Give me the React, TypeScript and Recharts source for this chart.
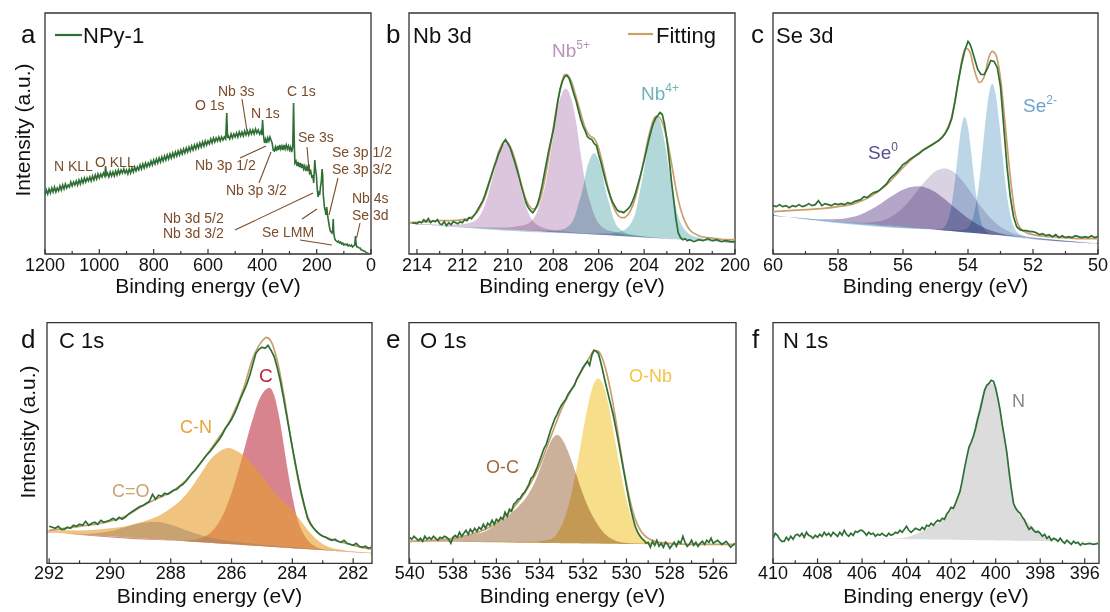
import React from "react";
import { ComposedChart, Line, Area, XAxis, YAxis, ReferenceArea, ReferenceLine } from "recharts";

const FONT = "'Liberation Sans', Arial, Helvetica, sans-serif";
const GREEN = "#2f6e34";
const TAN = "#c9a06c";
const BROWN = "#7a4c2a";

type Pt = [number, number];

// ---- a: survey ----
const surveyA: Pt[] = [
  [1200, 60], [1195, 65], [1190, 61], [1185, 66], [1180, 62], [1175, 67], [1170, 63], [1165, 68], [1160, 63], [1155, 67],
  [1150, 64], [1145, 69], [1140, 65], [1135, 70], [1130, 66], [1125, 71], [1120, 67], [1115, 70], [1110, 68], [1105, 73],
  [1100, 69], [1095, 73], [1090, 70], [1085, 74], [1080, 70], [1075, 75], [1070, 71], [1065, 76], [1060, 72], [1055, 77],
  [1050, 73], [1045, 77], [1040, 74], [1035, 78], [1030, 74], [1025, 79], [1020, 75], [1015, 80], [1010, 76], [1005, 81],
  [1000, 77], [995, 81], [990, 78], [985, 82], [980, 79], [977, 89], [974, 80], [970, 82], [965, 78], [960, 83],
  [955, 79], [950, 83], [945, 79], [940, 84], [935, 80], [930, 85], [925, 81], [920, 85], [915, 82], [910, 86],
  [905, 82], [900, 85], [895, 81], [890, 86], [885, 82], [880, 87], [875, 83], [870, 88], [865, 84], [860, 88],
  [855, 85], [850, 90], [845, 86], [840, 91], [835, 87], [830, 92], [825, 88], [820, 92], [815, 89], [810, 94],
  [805, 90], [800, 95], [795, 91], [790, 96], [785, 92], [780, 97], [775, 93], [770, 98], [765, 94], [760, 99],
  [755, 95], [750, 100], [745, 96], [740, 101], [735, 97], [730, 102], [725, 98], [720, 103], [715, 99], [710, 104],
  [705, 100], [700, 105], [695, 101], [690, 106], [685, 102], [680, 107], [675, 103], [670, 108], [665, 104], [660, 109],
  [655, 105], [650, 110], [645, 106], [640, 111], [635, 107], [630, 112], [625, 108], [620, 113], [615, 109], [610, 114],
  [605, 110], [600, 114], [595, 111], [590, 116], [585, 112], [580, 117], [575, 113], [570, 117], [565, 114], [560, 118],
  [555, 114], [550, 118], [545, 115], [540, 118], [535, 116], [531, 142], [528, 117], [525, 119], [520, 116], [515, 121],
  [510, 117], [505, 121], [500, 118], [495, 122], [490, 118], [485, 123], [480, 119], [475, 123], [470, 119], [465, 124],
  [460, 120], [455, 124], [450, 120], [445, 125], [440, 121], [435, 125], [430, 121], [425, 126], [420, 122], [415, 125],
  [410, 121], [405, 124], [402, 120], [399, 135], [396, 120], [392, 112], [388, 116], [384, 112], [380, 117], [376, 114],
  [372, 118], [368, 115], [364, 112], [360, 105], [356, 104], [352, 108], [348, 104], [344, 109], [340, 105], [336, 110],
  [332, 106], [328, 109], [324, 105], [320, 110], [316, 106], [312, 110], [308, 106], [304, 109], [300, 105], [296, 108],
  [292, 103], [288, 108], [285, 152], [282, 108], [280, 92], [276, 94], [272, 89], [268, 93], [264, 88], [260, 92],
  [256, 87], [252, 91], [248, 86], [244, 89], [240, 84], [236, 88], [232, 84], [229, 91], [226, 82], [222, 84],
  [218, 78], [214, 79], [211, 72], [207, 95], [204, 85], [201, 80], [198, 66], [195, 58], [192, 62], [189, 60],
  [186, 68], [183, 73], [180, 86], [178, 80], [176, 62], [174, 55], [171, 47], [168, 44], [166, 40], [163, 48],
  [161, 42], [159, 38], [156, 33], [153, 28], [150, 24], [147, 23], [144, 22], [141, 25], [139, 36], [137, 22],
  [134, 17], [131, 15], [128, 14], [124, 13], [120, 14], [116, 12], [112, 13], [108, 11], [104, 12], [100, 10],
  [96, 11], [92, 10], [88, 11], [84, 9], [80, 10], [76, 9], [72, 10], [68, 8], [64, 9], [60, 10],
  [57, 19], [55, 11], [52, 8], [48, 8], [44, 7], [40, 7], [36, 5], [32, 5], [28, 4], [24, 4],
  [20, 3], [16, 2], [12, 2], [8, 1], [4, 1], [0, 0],
];
const ticksA = [0, 100, 200, 300, 400, 500, 600, 700, 800, 900, 1000, 1100, 1200];
// leader lines [eV1, y1, eV2, y2]
const leadersA: [number, number, number, number][] = [
  [474.8, 156, 456.4, 124],
  [482.2, 97, 386.5, 109],
  [412.3, 72, 368.1, 103],
  [235.6, 108, 228.2, 85],
  [121.5, 77, 154.6, 40],
  [40.5, 32, 53, 17],
  [500.6, 25, 213.5, 62],
  [254, 36, 198.8, 46],
  [261.3, 15, 143.6, 10],
];
const labelsA: [string, number, number][] = [
  ["N KLL", 54, 171], ["O KLL", 95, 167], ["O 1s", 195, 110], ["Nb 3s", 218, 96], ["N 1s", 251, 118],
  ["C 1s", 287, 96], ["Se 3s", 298, 142], ["Nb 3p 1/2", 195, 170], ["Nb 3p 3/2", 226, 195],
  ["Se 3p 1/2", 332, 157], ["Se 3p 3/2", 332, 174], ["Nb 4s", 352, 203], ["Se 3d", 352, 220],
  ["Nb 3d 5/2", 163, 223], ["Nb 3d 3/2", 163, 238], ["Se LMM", 262, 237],
];

// ---- b: Nb 3d ----
const nb3d: Pt[] = [
  [214.2, 24], [214.0, 23], [213.9, 25], [213.8, 24], [213.7, 27], [213.6, 25], [213.5, 28], [213.4, 24], [213.3, 26], [213.2, 25],
  [213.1, 27], [213.0, 23], [212.9, 22], [212.8, 25], [212.7, 21], [212.6, 24], [212.5, 22], [212.4, 25], [212.3, 24], [212.2, 23],
  [212.1, 25], [212.0, 24], [211.9, 27], [211.8, 26], [211.7, 29], [211.6, 28], [211.5, 31], [211.4, 34], [211.3, 38], [211.2, 42],
  [211.1, 46], [211.0, 52], [210.9, 59], [210.8, 66], [210.7, 73], [210.6, 80], [210.5, 86], [210.4, 93], [210.3, 98], [210.2, 104],
  [210.1, 107], [210.0, 103], [209.9, 99], [209.8, 92], [209.7, 85], [209.6, 77], [209.5, 69], [209.4, 60], [209.3, 52], [209.2, 44],
  [209.1, 39], [209.0, 36], [208.9, 34], [208.8, 37], [208.7, 42], [208.6, 50], [208.5, 60], [208.4, 72], [208.3, 84], [208.2, 96],
  [208.1, 106], [208.0, 116], [207.9, 130], [207.8, 145], [207.7, 157], [207.6, 165], [207.5, 170], [207.4, 171], [207.3, 168], [207.2, 161],
  [207.1, 153], [207.0, 146], [206.9, 137], [206.8, 128], [206.7, 121], [206.6, 116], [206.5, 110], [206.4, 108], [206.3, 107], [206.2, 103],
  [206.1, 101], [206.0, 92], [205.9, 84], [205.8, 75], [205.7, 66], [205.6, 58], [205.5, 51], [205.4, 45], [205.3, 41], [205.2, 37],
  [205.1, 35], [205.0, 35], [204.9, 34], [204.8, 36], [204.7, 38], [204.6, 41], [204.5, 46], [204.4, 52], [204.3, 60], [204.2, 68],
  [204.1, 77], [204.0, 86], [203.9, 96], [203.8, 106], [203.7, 115], [203.6, 123], [203.5, 128], [203.4, 131], [203.3, 134], [203.2, 132],
  [203.1, 122], [203.0, 107], [202.9, 88], [202.8, 66], [202.7, 47], [202.6, 28], [202.5, 14], [202.4, 9], [202.3, 7], [202.2, 8],
  [202.1, 6], [202.0, 7], [201.8, 5], [201.6, 7], [201.4, 6], [201.2, 8], [201.0, 6], [200.8, 7], [200.6, 5], [200.4, 6], [200.2, 5], [200.0, 5],
];
const fitB: Pt[] = [
  [214.3, 24], [213.5, 25], [213, 26], [212.5, 26], [212, 27], [211.5, 31], [211.2, 40], [211, 50], [210.8, 64], [210.6, 80],
  [210.4, 95], [210.2, 104], [210.1, 105], [210.0, 104], [209.8, 95], [209.6, 80], [209.4, 62], [209.2, 47], [209.0, 39], [208.9, 37.5],
  [208.8, 38], [208.6, 46], [208.4, 64], [208.2, 90], [208.0, 118], [207.8, 146], [207.6, 166], [207.5, 172], [207.4, 172], [207.2, 165],
  [207.0, 150], [206.8, 134], [206.6, 119], [206.4, 111], [206.2, 108], [206.0, 98], [205.8, 80], [205.6, 60], [205.4, 43], [205.2, 33],
  [205.0, 29], [204.9, 29], [204.8, 30], [204.6, 36], [204.4, 48], [204.2, 66], [204.0, 88], [203.8, 110], [203.6, 126], [203.5, 130],
  [203.4, 130], [203.2, 124], [203.0, 108], [202.8, 84], [202.6, 58], [202.4, 38], [202.2, 25], [202.0, 17], [201.6, 11], [201.2, 9],
  [200.8, 8], [200.4, 7], [200.0, 7],
];
const baseB: Pt[] = [[214.3, 23], [200, 4]];
const nb5a: Pt[] = [
  [214.3, 0.5], [213.1, 0.8], [212.6, 1.2], [212.1, 2], [211.7, 4], [211.5, 6], [211.3, 10], [211.1, 18], [210.9, 31], [210.7, 48],
  [210.5, 67], [210.3, 82], [210.1, 86], [209.9, 82], [209.7, 67], [209.5, 48], [209.3, 31], [209.1, 18], [208.9, 10], [208.7, 6],
  [208.5, 4], [208.1, 2], [207.6, 1.2], [207.1, 0.8], [200, 0.5],
];
const nb5b: Pt[] = [
  [214.3, 0.5], [210.65, 1], [210.15, 1.7], [209.6, 3.6], [209.15, 6.5], [208.95, 10], [208.75, 17], [208.55, 30], [208.3, 52], [208.1, 81],
  [207.9, 112], [207.65, 137], [207.45, 144], [207.25, 137], [207.0, 112], [206.8, 81], [206.6, 52], [206.35, 30], [206.15, 17], [205.95, 10],
  [205.75, 6.5], [205.3, 3.6], [204.75, 1.7], [204.25, 1], [200, 0.5],
];
const nb4a: Pt[] = [
  [214.3, 0.5], [208.7, 0.6], [208.3, 1], [207.9, 2], [207.55, 3.6], [207.4, 5.7], [207.2, 10], [207.05, 17], [206.9, 29], [206.7, 45],
  [206.55, 63], [206.35, 77], [206.2, 81], [206.05, 77], [205.85, 63], [205.7, 45], [205.5, 29], [205.35, 17], [205.2, 10], [205.0, 5.7],
  [204.85, 3.6], [204.5, 2], [204.1, 1], [203.7, 0.6], [200, 0.5],
];
const nb4b: Pt[] = [
  [214.3, 0.5], [206.25, 0.7], [205.75, 1.5], [205.3, 3], [204.93, 5.4], [204.75, 8.5], [204.55, 14.5], [204.37, 25], [204.2, 44], [204.0, 68],
  [203.82, 94], [203.63, 115], [203.45, 121], [203.27, 115], [203.08, 94], [202.9, 68], [202.71, 44], [202.53, 25], [202.35, 14.5], [202.15, 8.5],
  [201.97, 5.4], [201.6, 3], [201.15, 1.5], [200.65, 0.7], [200, 0.5],
];
const ticksB = [200, 201, 202, 203, 204, 205, 206, 207, 208, 209, 210, 211, 212, 213, 214];

// ---- c: Se 3d ----
const se3d: Pt[] = [
  [60.0, 41], [59.9, 40], [59.8, 42], [59.7, 40], [59.6, 41], [59.5, 39], [59.4, 41], [59.3, 40], [59.2, 42], [59.1, 40],
  [59.0, 41], [58.9, 43], [58.8, 41], [58.7, 42], [58.6, 46], [58.5, 41], [58.4, 43], [58.3, 42], [58.2, 41], [58.1, 43],
  [58.0, 42], [57.9, 43], [57.8, 42], [57.7, 44], [57.6, 43], [57.5, 45], [57.4, 46], [57.3, 47], [57.2, 50], [57.1, 49],
  [57.0, 52], [56.9, 54], [56.8, 55], [56.7, 57], [56.6, 60], [56.5, 63], [56.4, 68], [56.3, 71], [56.2, 74], [56.1, 78],
  [56.0, 82], [55.9, 84], [55.8, 87], [55.7, 89], [55.6, 91], [55.5, 93], [55.4, 96], [55.3, 98], [55.2, 100], [55.1, 102],
  [55.0, 104], [54.9, 106], [54.8, 109], [54.7, 113], [54.6, 119], [54.5, 128], [54.4, 145], [54.3, 165], [54.2, 182], [54.1, 196],
  [54.0, 205], [53.95, 203], [53.9, 199], [53.8, 188], [53.7, 177], [53.6, 172], [53.5, 172], [53.4, 178], [53.3, 186], [53.2, 185],
  [53.1, 179], [53.0, 160], [52.9, 120], [52.8, 80], [52.7, 50], [52.6, 30], [52.5, 20], [52.4, 17], [52.3, 16], [52.2, 16],
  [52.1, 15], [52.0, 15], [51.9, 14], [51.8, 12], [51.7, 13], [51.6, 11], [51.5, 12], [51.4, 10], [51.3, 12], [51.2, 9],
  [51.1, 11], [51.0, 9], [50.9, 10], [50.8, 9], [50.7, 11], [50.6, 10], [50.5, 9], [50.4, 10], [50.3, 9], [50.2, 11], [50.1, 9], [50.0, 10],
];
const fitC: Pt[] = [
  [60, 35], [59.5, 36], [59, 37], [58.5, 38], [58, 40], [57.5, 43], [57, 50], [56.5, 62], [56, 79], [55.5, 94],
  [55, 104], [54.7, 114], [54.5, 130], [54.3, 165], [54.15, 192], [54.05, 198], [53.95, 195], [53.8, 176], [53.65, 164], [53.5, 170],
  [53.35, 190], [53.25, 195], [53.15, 192], [53.0, 168], [52.85, 120], [52.7, 70], [52.55, 33], [52.4, 19], [52.2, 14], [52.0, 12],
  [51.5, 10], [51.0, 9], [50.5, 8], [50, 8],
];
const baseC: Pt[] = [[60, 31], [50, 3]];
const se0b: Pt[] = [
  [60, 0.3], [58.5, 0.5], [57.9, 2.6], [57.6, 5], [57.3, 8.8], [57.0, 14.2], [56.7, 21], [56.4, 28.4], [56.1, 35.3], [55.8, 40.2],
  [55.5, 42], [55.2, 40.2], [54.9, 35.3], [54.6, 28.4], [54.3, 21], [54.0, 14.2], [53.7, 8.8], [53.4, 5], [53.1, 2.6], [52.5, 0.5], [50, 0.3],
];
const se0a: Pt[] = [
  [60, 0.3], [57.2, 0.8], [56.7, 3.9], [56.45, 7.4], [56.2, 13.1], [55.95, 21], [55.7, 31], [55.45, 42], [55.2, 52.1], [54.95, 59.4],
  [54.7, 62], [54.45, 59.4], [54.2, 52.1], [53.95, 42], [53.7, 31], [53.45, 21], [53.2, 13.1], [52.95, 7.4], [52.7, 3.9], [52.2, 0.8], [50, 0.3],
];
const se2a: Pt[] = [
  [60, 0.3], [55.0, 0.5], [54.8, 1.5], [54.7, 4.5], [54.6, 12], [54.5, 27], [54.4, 51], [54.3, 80], [54.2, 105], [54.1, 115],
  [54.0, 105], [53.9, 80], [53.8, 51], [53.7, 27], [53.6, 12], [53.5, 4.5], [53.4, 1.5], [53.2, 0.5], [50, 0.3],
];
const se2b: Pt[] = [
  [60, 0.3], [54.75, 0.5], [54.25, 1.5], [54.05, 3.5], [53.95, 7], [53.85, 15], [53.75, 30], [53.65, 53], [53.55, 84], [53.45, 116],
  [53.35, 141], [53.25, 151], [53.15, 141], [53.05, 116], [52.95, 84], [52.85, 53], [52.75, 30], [52.65, 15], [52.55, 7], [52.45, 3.5],
  [52.25, 1.5], [51.75, 0.8], [50, 0.5],
];
const ticksC = [50, 51, 52, 53, 54, 55, 56, 57, 58, 59, 60];

// ---- d: C 1s ----
const c1s: Pt[] = [
  [292.0, 37], [291.9, 36], [291.8, 35], [291.7, 37], [291.6, 34], [291.5, 34], [291.4, 36], [291.3, 35], [291.2, 38], [291.1, 37],
  [291.0, 39], [290.9, 38], [290.8, 42], [290.7, 38], [290.6, 40], [290.5, 41], [290.4, 39], [290.3, 43], [290.2, 41], [290.1, 42],
  [290.0, 43], [289.9, 45], [289.8, 43], [289.7, 46], [289.6, 44], [289.5, 46], [289.4, 49], [289.3, 51], [289.2, 53], [289.1, 55],
  [289.0, 57], [288.9, 58], [288.8, 60], [288.7, 62], [288.6, 69], [288.5, 64], [288.4, 68], [288.3, 67], [288.2, 70], [288.1, 69],
  [288.0, 71], [287.9, 73], [287.8, 74], [287.7, 77], [287.6, 79], [287.5, 82], [287.4, 86], [287.3, 90], [287.2, 93], [287.1, 97],
  [287.0, 101], [286.9, 105], [286.8, 109], [286.7, 112], [286.6, 116], [286.5, 120], [286.4, 124], [286.3, 129], [286.2, 135], [286.1, 139],
  [286.0, 144], [285.9, 150], [285.8, 157], [285.7, 165], [285.6, 172], [285.5, 179], [285.4, 188], [285.3, 199], [285.2, 210], [285.1, 214],
  [285.0, 216], [284.9, 215], [284.8, 218], [284.7, 213], [284.6, 207], [284.5, 196], [284.4, 183], [284.3, 167], [284.2, 150], [284.1, 133],
  [284.0, 116], [283.9, 100], [283.8, 84], [283.7, 70], [283.6, 57], [283.5, 45], [283.4, 39], [283.3, 35], [283.2, 32], [283.1, 29],
  [283.0, 27], [282.9, 26], [282.8, 24], [282.7, 23], [282.6, 24], [282.5, 22], [282.4, 21], [282.3, 23], [282.2, 20], [282.1, 19],
  [282.0, 18], [281.9, 20], [281.8, 17], [281.7, 16], [281.6, 17], [281.5, 15], [281.4, 16],
];
const fitD: Pt[] = [
  [292, 33], [291.5, 35], [291, 37], [290.5, 39], [290, 42], [289.5, 47], [289, 56], [288.5, 64], [288, 71], [287.5, 83],
  [287, 101], [286.5, 122], [286, 146], [285.6, 175], [285.3, 205], [285.0, 222], [284.85, 226], [284.7, 222], [284.5, 203], [284.3, 172],
  [284.1, 134], [283.9, 98], [283.7, 68], [283.5, 47], [283.3, 35], [283.1, 29], [282.8, 25], [282.5, 22], [282, 18], [281.4, 14],
];
const baseD: Pt[] = [[292.07, 31], [281.38, 10]];
const cCO: Pt[] = [
  [292.07, 0.3], [291.0, 0.5], [290.5, 2], [290.0, 5], [289.5, 10], [289.0, 15], [288.5, 17.6], [288.0, 15.5], [287.5, 11], [287.0, 7],
  [286.5, 4.5], [286.0, 3], [285.0, 1.5], [284.0, 1], [283.0, 0.5], [281.38, 0.3],
];
const cCN: Pt[] = [
  [292.07, 2], [291.0, 4], [290.0, 8], [289.5, 11], [289.0, 16], [288.5, 22], [288.0, 32], [287.6, 43], [287.3, 55], [287.0, 69],
  [286.7, 83], [286.4, 92], [286.1, 96], [285.8, 93], [285.5, 87], [285.2, 77], [284.9, 66], [284.6, 55], [284.3, 46], [284.0, 38],
  [283.7, 27], [283.4, 16], [283.1, 8], [282.8, 3.5], [282.4, 1.5], [281.38, 0.5],
];
const cC: Pt[] = [
  [292.07, 0.2], [287.6, 0.5], [287.15, 2.4], [286.85, 6.5], [286.55, 15], [286.25, 31], [285.95, 56], [285.65, 88], [285.35, 122], [285.05, 149],
  [284.75, 159], [284.6, 152], [284.45, 133], [284.3, 106], [284.15, 77], [284.0, 52], [283.85, 31], [283.7, 19], [283.55, 11], [283.4, 6],
  [283.2, 2.5], [282.9, 0.6], [281.38, 0.2],
];
const ticksD = [282, 283, 284, 285, 286, 287, 288, 289, 290, 291, 292];

// ---- e: O 1s ----
const o1s: Pt[] = [
  [540.0, 27], [539.9, 25], [539.8, 28], [539.7, 26], [539.6, 24], [539.5, 26], [539.4, 23], [539.3, 28], [539.2, 25], [539.1, 27],
  [539.0, 25], [538.9, 28], [538.8, 26], [538.7, 24], [538.6, 27], [538.5, 26], [538.4, 28], [538.3, 27], [538.2, 25], [538.1, 21],
  [538.0, 27], [537.9, 29], [537.8, 27], [537.7, 32], [537.6, 28], [537.5, 31], [537.4, 34], [537.3, 30], [537.2, 35], [537.1, 32],
  [537.0, 36], [536.9, 33], [536.8, 37], [536.7, 35], [536.6, 40], [536.5, 36], [536.4, 41], [536.3, 39], [536.2, 44], [536.1, 40],
  [536.0, 45], [535.9, 43], [535.8, 47], [535.7, 45], [535.6, 52], [535.5, 48], [535.4, 55], [535.3, 53], [535.2, 60], [535.1, 62],
  [535.0, 65], [534.9, 66], [534.8, 70], [534.7, 72], [534.6, 76], [534.5, 80], [534.4, 86], [534.3, 88], [534.2, 93], [534.1, 98],
  [534.0, 104], [533.9, 110], [533.8, 116], [533.7, 120], [533.6, 127], [533.5, 134], [533.4, 140], [533.3, 146], [533.2, 150], [533.1, 155],
  [533.0, 159], [532.9, 162], [532.8, 165], [532.7, 170], [532.6, 173], [532.5, 176], [532.4, 179], [532.3, 185], [532.2, 189], [532.1, 193],
  [532.0, 197], [531.9, 200], [531.8, 203], [531.7, 199], [531.6, 209], [531.5, 214], [531.4, 213], [531.3, 211], [531.2, 203], [531.1, 194],
  [531.0, 184], [530.9, 175], [530.8, 166], [530.7, 157], [530.6, 148], [530.5, 137], [530.4, 126], [530.3, 114], [530.2, 102], [530.1, 90],
  [530.0, 78], [529.9, 66], [529.8, 55], [529.7, 46], [529.6, 38], [529.5, 33], [529.4, 29], [529.3, 26], [529.2, 24], [529.1, 21],
  [529.0, 22], [528.9, 17], [528.8, 23], [528.7, 19], [528.6, 24], [528.5, 18], [528.4, 21], [528.3, 17], [528.2, 22], [528.1, 20],
  [528.0, 16], [527.9, 19], [527.8, 22], [527.7, 18], [527.6, 23], [527.5, 21], [527.4, 28], [527.3, 22], [527.2, 18], [527.1, 20],
  [527.0, 24], [526.9, 19], [526.8, 22], [526.7, 18], [526.6, 21], [526.5, 23], [526.4, 20], [526.3, 24], [526.2, 22], [526.1, 26],
  [526.0, 21], [525.8, 24], [525.6, 20], [525.4, 23], [525.2, 17], [525.0, 21],
];
const fitE: Pt[] = [
  [540, 23], [539, 24], [538, 26], [537, 31], [536.5, 35], [536, 41], [535.5, 50], [535, 62], [534.5, 78], [534, 99],
  [533.5, 127], [533, 155], [532.5, 176], [532, 196], [531.7, 207], [531.5, 214], [531.3, 213], [531.1, 205], [530.9, 190], [530.7, 170],
  [530.5, 145], [530.3, 118], [530.1, 92], [529.9, 70], [529.7, 52], [529.5, 40], [529.3, 32], [529.0, 26], [528.5, 22], [528, 21],
  [527, 20], [526, 20], [525, 20],
];
const baseE: Pt[] = [[540.03, 23], [524.95, 19]];
const oC: Pt[] = [
  [540, 0.3], [538.5, 2], [538.0, 3.5], [537.5, 5.5], [537.0, 8], [536.5, 11], [536.0, 18], [535.5, 26], [535.0, 36], [534.6, 46],
  [534.2, 62], [533.9, 79], [533.6, 96], [533.4, 105], [533.2, 108], [533.0, 105], [532.7, 92], [532.4, 74], [532.1, 55], [531.8, 38],
  [531.5, 25], [531.2, 15], [530.9, 8], [530.6, 4], [530.2, 1.5], [529.5, 0.5], [525, 0.2],
];
const oNb: Pt[] = [
  [540, 0.2], [534.5, 1], [533.5, 3.8], [533.1, 13.2], [532.9, 22.3], [532.7, 35.6], [532.5, 53.6], [532.3, 75.6], [532.1, 100], [531.9, 124.6],
  [531.7, 145.5], [531.5, 160], [531.3, 165], [531.1, 160], [530.9, 145.5], [530.7, 124.6], [530.5, 100], [530.3, 75.6], [530.1, 53.6], [529.9, 35.6],
  [529.7, 22.3], [529.5, 13.2], [529.1, 3.8], [528.5, 1], [525, 0.2],
];
const ticksE = [526, 527, 528, 529, 530, 531, 532, 533, 534, 535, 536, 537, 538, 539, 540];

// ---- f: N 1s ----
const n1s: Pt[] = [
  [410.0, 25], [409.9, 30], [409.8, 28], [409.7, 24], [409.6, 22], [409.5, 22], [409.4, 26], [409.3, 23], [409.2, 27], [409.1, 24],
  [409.0, 28], [408.9, 29], [408.8, 27], [408.7, 30], [408.6, 26], [408.5, 31], [408.4, 28], [408.3, 27], [408.2, 25], [408.1, 28],
  [408.0, 26], [407.9, 29], [407.8, 27], [407.7, 31], [407.6, 28], [407.5, 30], [407.4, 27], [407.3, 31], [407.2, 29], [407.1, 27],
  [407.0, 31], [406.9, 28], [406.8, 33], [406.7, 29], [406.6, 27], [406.5, 30], [406.4, 28], [406.3, 32], [406.2, 31], [406.1, 33],
  [406.0, 33], [405.9, 31], [405.8, 28], [405.7, 31], [405.6, 29], [405.5, 30], [405.4, 27], [405.3, 29], [405.2, 28], [405.1, 30],
  [405.0, 28], [404.9, 27], [404.8, 30], [404.7, 28], [404.6, 29], [404.5, 31], [404.4, 30], [404.3, 33], [404.2, 31], [404.1, 34],
  [404.0, 37], [403.9, 33], [403.8, 31], [403.7, 33], [403.6, 35], [403.5, 34], [403.4, 33], [403.3, 36], [403.2, 34], [403.1, 38],
  [403.0, 37], [402.9, 40], [402.8, 38], [402.7, 41], [402.6, 43], [402.5, 42], [402.4, 45], [402.3, 44], [402.2, 49], [402.1, 52],
  [402.0, 56], [401.9, 55], [401.8, 60], [401.7, 66], [401.6, 72], [401.5, 83], [401.4, 95], [401.3, 106], [401.2, 116], [401.1, 121],
  [401.0, 127], [400.9, 135], [400.8, 145], [400.7, 153], [400.6, 163], [400.5, 173], [400.4, 178], [400.3, 180], [400.2, 183], [400.1, 182],
  [400.0, 175], [399.9, 165], [399.8, 153], [399.7, 138], [399.6, 125], [399.5, 111], [399.4, 92], [399.3, 75], [399.2, 60], [399.1, 55],
  [399.0, 52], [398.9, 50], [398.8, 46], [398.7, 43], [398.6, 38], [398.5, 34], [398.4, 36], [398.3, 33], [398.2, 31], [398.1, 32],
  [398.0, 30], [397.9, 27], [397.8, 29], [397.7, 25], [397.6, 27], [397.5, 23], [397.4, 25], [397.3, 24], [397.2, 22], [397.1, 25],
  [397.0, 22], [396.9, 20], [396.8, 23], [396.7, 21], [396.6, 19], [396.5, 22], [396.4, 20], [396.3, 21], [396.2, 18], [396.1, 20],
  [396.0, 19], [395.8, 20], [395.6, 19], [395.4, 20],
];
const baseF: Pt[] = [[410, 26], [395.4, 21.5]];
const nComp: Pt[] = [
  [410, 0.3], [404.5, 0.5], [404.0, 2], [403.5, 6], [403.0, 12], [402.5, 18], [402.0, 30], [401.7, 45], [401.5, 60], [401.2, 90],
  [401.0, 108], [400.8, 128], [400.6, 145], [400.4, 154], [400.2, 157], [400.0, 150], [399.8, 132], [399.6, 105], [399.4, 70], [399.2, 40],
  [399.0, 28], [398.8, 22], [398.5, 17], [398.2, 11], [398.0, 7], [397.5, 2], [397.0, 0.5], [395.4, 0.3],
];
const ticksF = [396, 397, 398, 399, 400, 401, 402, 403, 404, 405, 406, 407, 408, 409, 410];

// ---- helpers ----
const rows = (pts: Pt[]) => pts.map(([x, y]) => ({ x, y }));
function baseAt(base: Pt[], x: number) {
  const [[x0, y0], [x1, y1]] = base;
  return y0 + ((y1 - y0) * (x - x0)) / (x1 - x0);
}
const band = (pts: Pt[], base: Pt[]) =>
  pts.map(([x, h]) => {
    const b = baseAt(base, x);
    return { x, y: [b, b + h] };
  });

const tickFn = (major: number, labelDy: number) => (p: any) => {
  const v = p.payload.value;
  const isMajor = Math.abs(v / major - Math.round(v / major)) < 1e-6;
  return (
    <g>
      <line x1={p.x} x2={p.x} y1={p.y} y2={p.y - (isMajor ? 5 : 3)} stroke="#333" strokeWidth={1.2} />
      {isMajor && (
        <text x={p.x} y={p.y + labelDy} textAnchor="middle" fontSize={18} fontFamily={FONT} fill="#111">
          {v}
        </text>
      )}
    </g>
  );
};

type Cfg = {
  left: number; top: number; width: number; height: number;
  margin: { top: number; right: number; left: number; bottom: number };
  axisH: number; titleOffset: number; labelDy: number;
  xDomain: [number, number]; yDomain: [number, number];
  ticks: number[]; major: number;
};

function line(key: string, pts: Pt[], color: string, curve: "linear" | "monotone" = "linear", w = 1.6) {
  return (
    <Line key={key} data={rows(pts)} dataKey="y" type={curve} stroke={color} strokeWidth={w} dot={false}
      isAnimationActive={false} />
  );
}
function area(key: string, pts: Pt[], base: Pt[], color: string, opacity = 1, blend = true) {
  return (
    <Area key={key} data={band(pts, base)} dataKey="y" type="monotone" stroke="none" fill={color} fillOpacity={opacity}
      className={blend ? "mb" : undefined} isAnimationActive={false} />
  );
}

function panel(cfg: Cfg, series: React.ReactNode[], extra: React.ReactNode[] = []) {
  const [x0, x1] = cfg.xDomain;
  const [y0, y1] = cfg.yDomain;
  return (
    <div style={{ position: "absolute", left: cfg.left, top: cfg.top, width: cfg.width, height: cfg.height }}>
      <ComposedChart width={cfg.width} height={cfg.height} margin={cfg.margin}>
        <XAxis dataKey="x" type="number" domain={[x0, x1]} reversed allowDataOverflow ticks={cfg.ticks}
          interval={0} tickSize={0} tickMargin={0} axisLine={false} tickLine={false} height={cfg.axisH}
          tick={tickFn(cfg.major, cfg.labelDy)}
          label={{ value: "Binding energy (eV)", position: "insideBottom", offset: cfg.titleOffset, fontSize: 21, fill: "#111", fontFamily: FONT }} />
        <YAxis hide type="number" domain={[y0, y1]} allowDataOverflow />
        {series}
        {extra}
        <ReferenceArea x1={x0} x2={x1} y1={y0} y2={y1} fill="none" fillOpacity={0} stroke="#333" strokeWidth={1.3}
          ifOverflow="visible" />
      </ComposedChart>
    </div>
  );
}

const cfgA: Cfg = { left: 0, top: 0, width: 380, height: 300, margin: { top: 13, right: 9, left: 45, bottom: 0 }, axisH: 46, titleOffset: 7, labelDy: 17, xDomain: [0, 1200], yDomain: [1, 242], ticks: ticksA, major: 200 };
const cfgB: Cfg = { left: 370, top: 0, width: 380, height: 300, margin: { top: 13, right: 15, left: 39, bottom: 0 }, axisH: 46, titleOffset: 7, labelDy: 17, xDomain: [200, 214.35], yDomain: [-7.3, 233.4], ticks: ticksB, major: 2 };
const cfgC: Cfg = { left: 740, top: 0, width: 370, height: 300, margin: { top: 13, right: 12, left: 33, bottom: 0 }, axisH: 46, titleOffset: 7, labelDy: 17, xDomain: [50, 60], yDomain: [-7.3, 233.4], ticks: ticksC, major: 2 };
const cfgD: Cfg = { left: 0, top: 300, width: 380, height: 312, margin: { top: 22.7, right: 8, left: 47, bottom: 0 }, axisH: 48.7, titleOffset: 9, labelDy: 16, xDomain: [281.38, 292.07], yDomain: [0, 240.6], ticks: ticksD, major: 2 };
const cfgE: Cfg = { left: 370, top: 300, width: 380, height: 312, margin: { top: 22.7, right: 14, left: 39, bottom: 0 }, axisH: 48.7, titleOffset: 9, labelDy: 16, xDomain: [524.95, 540.03], yDomain: [1, 241.6], ticks: ticksE, major: 2 };
const cfgF: Cfg = { left: 740, top: 300, width: 370, height: 312, margin: { top: 22.7, right: 11, left: 33, bottom: 0 }, axisH: 48.7, titleOffset: 9, labelDy: 16, xDomain: [395.36, 410], yDomain: [0, 240.6], ticks: ticksF, major: 2 };

function T(props: { x: number; y: number; size?: number; color?: string; children: React.ReactNode }) {
  return (
    <text x={props.x} y={props.y} fontSize={props.size ?? 22} fill={props.color ?? "#111"} fontFamily={FONT}>
      {props.children}
    </text>
  );
}

export default function App() {
  return (
    <div style={{ position: "absolute", left: 0, top: 0, width: 1110, height: 612, background: "#fff", fontFamily: FONT }}>
      <style>{`.mb{mix-blend-mode:multiply}`}</style>
      {panel(cfgA, [line("sa", surveyA, GREEN, "linear", 1.6)],
        leadersA.map(([a, b, c, d], i) => (
          <ReferenceLine key={"l" + i} segment={[{ x: a, y: b }, { x: c, y: d }]} stroke={BROWN} strokeWidth={1.1} ifOverflow="visible" />
        )))}
      {panel(cfgB, [
        area("b1", nb5a, baseB, "#dcc6de"),
        area("b2", nb5b, baseB, "#dcc6de"),
        area("b3", nb4a, baseB, "#b3d8da"),
        area("b4", nb4b, baseB, "#b3d8da"),
        line("bf", fitB, TAN, "monotone", 1.7),
        line("bs", nb3d, GREEN, "linear", 1.7),
      ])}
      {panel(cfgC, [
        area("c1", se0b, baseC, "#b3a6c8"),
        area("c2", se0a, baseC, "#d9d2e3"),
        area("c3", se2a, baseC, "#bcd6e8"),
        area("c4", se2b, baseC, "#bcd6e8"),
        line("cf", fitC, TAN, "monotone", 1.7),
        line("cs", se3d, GREEN, "linear", 1.7),
      ])}
      {panel(cfgD, [
        area("d3", cC, baseD, "#d8848e", 1, false),
        area("d1", cCN, baseD, "#e69d2a", 0.6, false),
        area("d2", cCO, baseD, "#a08060", 0.5, false),
        line("df", fitD, TAN, "monotone", 1.7),
        line("ds", c1s, GREEN, "linear", 1.7),
      ])}
      {panel(cfgE, [
        area("e1", oC, baseE, "#cbb09a"),
        area("e2", oNb, baseE, "#f6de8a"),
        line("ef", fitE, TAN, "monotone", 1.7),
        line("es", o1s, GREEN, "linear", 1.7),
      ])}
      {panel(cfgF, [
        area("f1", nComp, baseF, "#dcdcdc"),
        line("fs", n1s, GREEN, "linear", 1.7),
      ])}

      <svg width={1110} height={612} style={{ position: "absolute", left: 0, top: 0, pointerEvents: "none" }}>
        {/* panel letters */}
        <T x={21} y={43} size={26}>a</T>
        <T x={386} y={43} size={26}>b</T>
        <T x={751} y={43} size={26}>c</T>
        <T x={21} y={348} size={26}>d</T>
        <T x={386} y={348} size={26}>e</T>
        <T x={752} y={348} size={26}>f</T>
        {/* titles */}
        <T x={413} y={43}>Nb 3d</T>
        <T x={776} y={43}>Se 3d</T>
        <T x={59} y={348}>C 1s</T>
        <T x={420} y={348}>O 1s</T>
        <T x={783} y={348}>N 1s</T>
        {/* legends */}
        <line x1={55} x2={82} y1={35} y2={35} stroke={GREEN} strokeWidth={2.2} />
        <T x={83} y={43}>NPy-1</T>
        <line x1={628} x2={653} y1={34} y2={34} stroke={TAN} strokeWidth={2.2} />
        <T x={656} y={43}>Fitting</T>
        {/* y titles */}
        <text transform="translate(30,130) rotate(-90)" textAnchor="middle" fontSize={21} fontFamily={FONT} fill="#111">Intensity (a.u.)</text>
        <text transform="translate(35,432) rotate(-90)" textAnchor="middle" fontSize={21} fontFamily={FONT} fill="#111">Intensity (a.u.)</text>
        {/* survey labels */}
        {labelsA.map(([s, x, y]) => (
          <T key={s} x={x} y={y} size={14} color={BROWN}>{s}</T>
        ))}
        {/* component labels */}
        <text x={552} y={57} fontSize={19} fill="#b894bd" fontFamily={FONT}>Nb<tspan fontSize={12} dy={-8}>5+</tspan></text>
        <text x={641} y={100} fontSize={19} fill="#6db4b9" fontFamily={FONT}>Nb<tspan fontSize={12} dy={-8}>4+</tspan></text>
        <text x={868} y={159} fontSize={19} fill="#5b4d8b" fontFamily={FONT}>Se<tspan fontSize={12} dy={-8}>0</tspan></text>
        <text x={1023} y={112} fontSize={19} fill="#6da3cf" fontFamily={FONT}>Se<tspan fontSize={12} dy={-8}>2-</tspan></text>
        <T x={259} y={382} size={19} color="#c0233a">C</T>
        <T x={180} y={433} size={18} color="#e9a23a">C-N</T>
        <T x={112} y={497} size={18} color="#c9a474">C=O</T>
        <T x={629} y={382} size={18} color="#f2c542">O-Nb</T>
        <T x={486} y={473} size={18} color="#9b6b42">O-C</T>
        <T x={1012} y={407} size={18} color="#888">N</T>
      </svg>
    </div>
  );
}
